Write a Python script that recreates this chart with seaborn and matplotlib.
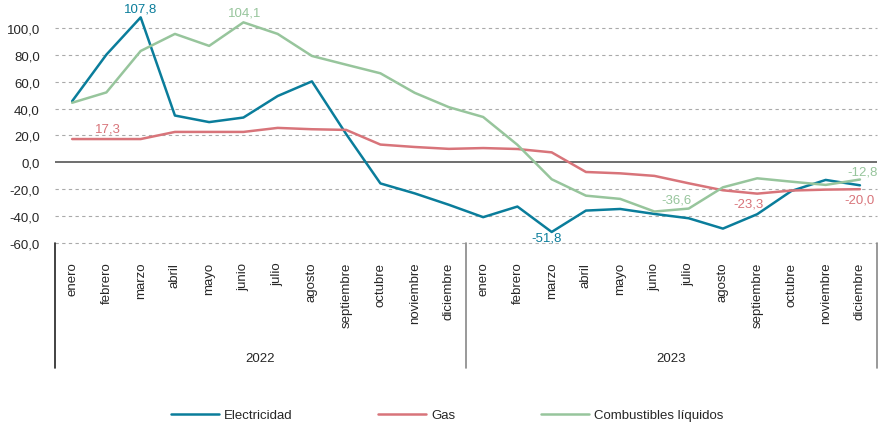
import numpy as np
import pandas as pd
import seaborn as sns
from matplotlib import pyplot as plt
import matplotlib.transforms as mtransforms

meses = ["enero", "febrero", "marzo", "abril", "mayo", "junio", "julio",
         "agosto", "septiembre", "octubre", "noviembre", "diciembre"]
years = ["2022", "2023"]
month_labels = meses * 2

electricidad = [45.5, 80.1, 107.8, 34.8, 29.9, 33.3, 49.3, 60.2, 21.0, -15.7, -23.1, -31.6,
                -40.8, -32.9, -51.8, -35.9, -34.7, -38.4, -41.6, -49.3, -38.6, -21.3, -13.1, -17.1]
gas = [17.3, 17.3, 17.3, 22.6, 22.6, 22.6, 25.6, 24.6, 24.1, 13.2, 11.4, 10.0,
       10.6, 9.9, 7.4, -7.2, -8.2, -10.1, -15.6, -20.8, -23.3, -21.0, -20.3, -20.0]
combustibles = [44.3, 52.0, 82.8, 95.5, 86.6, 104.1, 95.5, 79.1, 72.6, 66.2, 51.7, 41.0,
                33.7, 13.0, -12.6, -24.8, -27.2, -36.6, -34.4, -18.6, -11.9, -14.4, -16.8, -12.8]

series_names = ["Electricidad", "Gas", "Combustibles líquidos"]
colors = {"Electricidad": "#0a7d9b", "Gas": "#d8747a", "Combustibles líquidos": "#97c59c"}

# labelled points: (series, month index, dx, dy in pixels)
label_points = [("Electricidad", 2, 0, 9), ("Combustibles líquidos", 5, 1, 10),
                ("Gas", 1, 1, 11), ("Electricidad", 14, -5, -6),
                ("Combustibles líquidos", 17, 22, 12), ("Gas", 20, -9, -10),
                ("Gas", 23, 0, -10), ("Combustibles líquidos", 23, 3, 8)]

values = {"Electricidad": electricidad, "Gas": gas, "Combustibles líquidos": combustibles}
df = pd.concat([pd.DataFrame({"idx": np.arange(24), "valor": values[s], "serie": s})
                for s in series_names])

sns.set_style("white")
plt.rcParams["font.family"] = ["Liberation Sans", "DejaVu Sans"]
plt.rcParams["font.size"] = 9.5

fig = plt.figure(figsize=(8.82, 4.27), dpi=100)
ax = fig.add_axes([0.0624, 0.4286, 0.932, 0.5668])

sns.lineplot(data=df, x="idx", y="valor", hue="serie", hue_order=series_names,
             palette=colors, linewidth=1.8, legend=False, ax=ax)
handles = ax.get_lines()[:3]

ax.set_xlim(-0.5, 23.5)
ax.set_ylim(-60, 120)
ax.set_yticks(np.arange(-60, 101, 20))
ax.set_yticklabels([f"{v:.1f}".replace(".", ",") for v in np.arange(-60, 101, 20)])
for v in np.arange(-60, 101, 20):
    if v != 0:
        ax.axhline(v, color="#aaaaaa", lw=0.8, ls=(0, (3, 3)), zorder=0, clip_on=False)
ax.axhline(0, color="#555555", lw=1.2, zorder=1)

ax.set_xticks(np.arange(24))
ax.set_xticklabels(month_labels, rotation=90, va="top", ha="center")
ax.tick_params(axis="x", length=0, pad=13.5, labelsize=9.5)
ax.tick_params(axis="y", length=0, pad=11, labelsize=9.5)
ax.set_xlabel("")
ax.set_ylabel("")
for s in ax.spines.values():
    s.set_visible(False)

trans = mtransforms.blended_transform_factory(ax.transData, ax.transAxes)
for xpos, col in [(-0.5, "#222222"), (11.5, "#888888"), (23.5, "#888888")]:
    ax.plot([xpos, xpos], [0, -0.5165], color=col, lw=1.2, transform=trans, clip_on=False)
for k, y in enumerate(years):
    ax.text(5.5 + 12 * k, -0.475, y, transform=trans, ha="center", va="center", fontsize=9.5)

for serie, i, dx, dy in label_points:
    v = values[serie][i]
    ax.annotate(f"{v:.1f}".replace(".", ","), xy=(i, v), xytext=(dx, dy),
                textcoords="offset pixels", ha="center", va="center",
                color=colors[serie], fontsize=9.5)

fig.legend(handles, series_names, loc="center", bbox_to_anchor=(0.507, 0.025),
           ncol=3, frameon=False, handlelength=3.6, handletextpad=0.4,
           columnspacing=6.5, fontsize=9.5)

fig.savefig("out.png", dpi=100)
